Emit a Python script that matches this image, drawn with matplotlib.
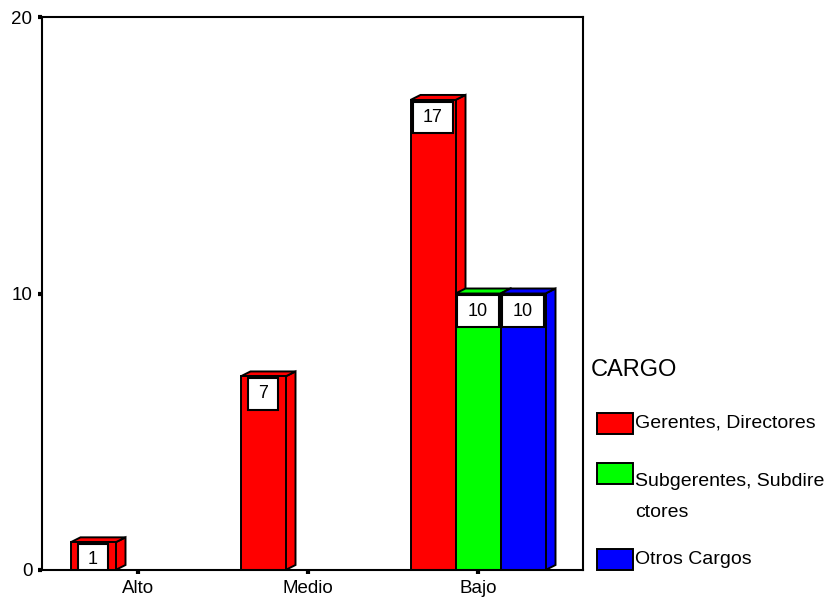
import matplotlib
matplotlib.use("Agg")
import matplotlib.pyplot as plt
from matplotlib.patches import Polygon, Rectangle
from matplotlib.path import Path

plt.rcParams['font.family'] = ['Liberation Sans', 'DejaVu Sans']

categories = ["Alto", "Medio", "Bajo"]
series_names = ["Gerentes, Directores", "Subgerentes, Subdire\nctores", "Otros Cargos"]
series_values = [
    [1, 7, 17],   # Gerentes, Directores
    [0, 0, 10],   # Subgerentes, Subdirectores
    [0, 0, 10],   # Otros Cargos
]
series_colors = ["#ff0000", "#00ff00", "#0000ff"]
y_ticks = [0, 10, 20]
legend_title = "CARGO"

W, H = 827, 598
fig = plt.figure(figsize=(W / 100, H / 100), dpi=100)
ax_l, ax_r, ax_t, ax_b = 42, 583, 17, 570
ax = fig.add_axes([ax_l / W, 1 - ax_b / H, (ax_r - ax_l) / W, (ax_b - ax_t) / H])

xlim = (-0.5647, 2.6176)
ylim = (0, 20)
ax.set_xlim(*xlim)
ax.set_ylim(*ylim)

px_x = (ax_r - ax_l) / (xlim[1] - xlim[0])   # pixels per x unit
px_y = (ax_b - ax_t) / (ylim[1] - ylim[0])   # pixels per y unit
bar_w = 45 / px_x
dx = 10 / px_x
dy = 5 / px_y


def label_box(x0, y0, width, height, mutation_size):
    """Rectangular label frame: wide side padding, fixed height."""
    pad_x = 0.58 * mutation_size
    half_h = 0.88 * mutation_size
    cy = y0 + height / 2
    xa, xb = x0 - pad_x, x0 + width + pad_x
    ya, yb = cy - half_h, cy + half_h
    return Path([(xa, ya), (xb, ya), (xb, yb), (xa, yb), (xa, ya)], closed=True)


for s, (vals, col) in enumerate(zip(series_values, series_colors)):
    for c, v in enumerate(vals):
        if v <= 0:
            continue
        x0 = c + (s - 1) * bar_w - bar_w / 2
        x1 = x0 + bar_w
        kw = dict(facecolor=col, edgecolor="black", linewidth=1.4, joinstyle="miter")
        side = Polygon([(x1, 0), (x1 + dx, dy), (x1 + dx, v + dy), (x1, v)], closed=True, zorder=2 + s, **kw)
        top = Polygon([(x0, v), (x0 + dx, v + dy), (x1 + dx, v + dy), (x1, v)], closed=True, zorder=2 + s, **kw)
        front = Rectangle((x0, 0), bar_w, v, zorder=2 + s, **kw)
        for p in (side, top, front):
            ax.add_patch(p)
        ax.annotate(str(v), xy=(x0 + bar_w / 2, v), xytext=(0, -17.5),
                    textcoords="offset pixels", ha="center", va="center",
                    fontsize=13, zorder=6, clip_on=True,
                    bbox=dict(boxstyle=label_box, facecolor="white",
                              edgecolor="black", linewidth=1.5))

ax.set_xticks(range(len(categories)))
ax.set_xticklabels(categories)
ax.set_yticks(y_ticks)
ax.set_yticklabels([str(t) for t in y_ticks])
ax.tick_params(axis="both", direction="out", length=3, width=3, labelsize=13.5,
               color="black", labelcolor="black")
ax.tick_params(axis="x", pad=4.5)
ax.tick_params(axis="y", pad=4)
for sp in ax.spines.values():
    sp.set_linewidth(1.5)
    sp.set_color("black")
    sp.set_zorder(10)

# legend block
fig.text(591 / W, 1 - 370 / H, legend_title, fontsize=17, ha="left", va="center")
legend_rows = [423, 473, 559]
for name, col, yc in zip(series_names, series_colors, legend_rows):
    fig.patches.append(Rectangle((597 / W, 1 - (yc + 10.5) / H), 36 / W, 21 / H,
                                 transform=fig.transFigure, facecolor=col,
                                 edgecolor="black", linewidth=1.4))
    fig.text(635 / W, 1 - yc / H, name, fontsize=14, ha="left",
             va="top" if "\n" in name else "center", linespacing=2.05)

fig.savefig("out.png", dpi=100)
